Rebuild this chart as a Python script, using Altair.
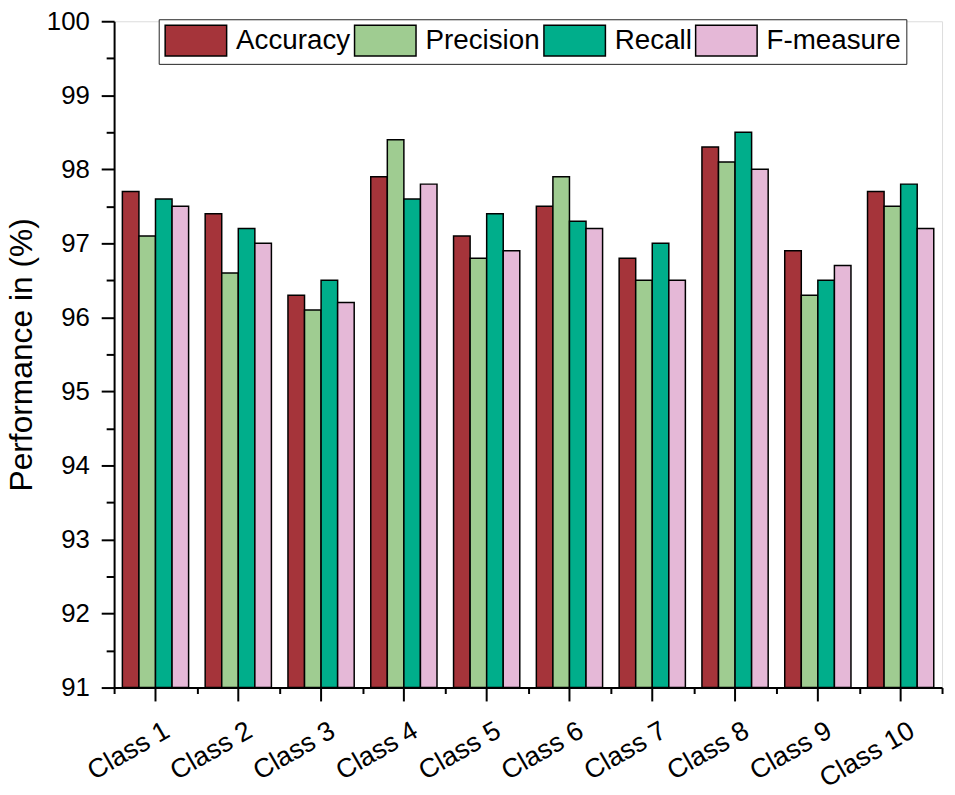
import altair as alt
import pandas as pd

classes = ["Class 1", "Class 2", "Class 3", "Class 4", "Class 5",
           "Class 6", "Class 7", "Class 8", "Class 9", "Class 10"]
metrics = ["Accuracy", "Precision", "Recall", "F-measure"]
accuracy = [97.7, 97.4, 96.3, 97.9, 97.1, 97.5, 96.8, 98.3, 96.9, 97.7]
precision = [97.1, 96.6, 96.1, 98.4, 96.8, 97.9, 96.5, 98.1, 96.3, 97.5]
recall = [97.6, 97.2, 96.5, 97.6, 97.4, 97.3, 97.0, 98.5, 96.5, 97.8]
fmeasure = [97.5, 97.0, 96.2, 97.8, 96.9, 97.2, 96.5, 98.0, 96.7, 97.2]
colors = ["#A5343A", "#9FCC91", "#00AE8B", "#E5B8D7"]
y_ticks = [91 + 0.5 * i for i in range(19)]

series = {"Accuracy": accuracy, "Precision": precision,
          "Recall": recall, "F-measure": fmeasure}
rows = []
for m in metrics:
    for c, v in zip(classes, series[m]):
        rows.append({"Class": c, "Metric": m, "Value": v})
df = pd.DataFrame(rows)
cdf = pd.DataFrame({"Class": classes})

FONT = "Liberation Sans"
W, H = 835, 672

xscale = alt.Scale(domain=classes, paddingInner=0, paddingOuter=0)

bars = alt.Chart(df).mark_bar(stroke="black", strokeWidth=1.5).encode(
    x=alt.X("Class:N", scale=xscale, sort=classes,
            axis=alt.Axis(title=None, labelAngle=-30, labelFont=FONT,
                          labelFontSize=27, labelColor="black",
                          labelAlign="right", labelBaseline="top",
                          labelPadding=24, labelOffset=5,
                          tickBand="extent", tickExtra=True,
                          tickSize=6, tickWidth=2, tickColor="black",
                          domainColor="black", domainWidth=2)),
    xOffset=alt.XOffset("Metric:N", sort=metrics,
                        scale=alt.Scale(domain=metrics, paddingInner=0, paddingOuter=0.5)),
    y=alt.Y("Value:Q",
            scale=alt.Scale(domain=[91, 100], zero=False, nice=False),
            axis=alt.Axis(title="Performance in (%)", values=y_ticks,
                          labelExpr="datum.value % 1 === 0 ? format(datum.value, 'd') : ''",
                          labelFont=FONT, labelFontSize=26, labelColor="black",
                          labelPadding=12,
                          tickSize=alt.condition("datum.value % 1 === 0", alt.value(13), alt.value(8)),
                          tickWidth=2, tickColor="black",
                          domainColor="black", domainWidth=2, grid=False,
                          titleFont=FONT, titleFontSize=32, titleFontWeight="normal",
                          titleColor="black", titleAngle=270, titleBaseline="bottom",
                          titleAlign="center", titleX=-76, titleY=H / 2)),
    y2=alt.Y2(datum=91),
    color=alt.Color("Metric:N", sort=metrics,
                    scale=alt.Scale(domain=metrics, range=colors),
                    legend=alt.Legend(title=None, orient="none", direction="horizontal",
                                      legendX=45, legendY=-2,
                                      symbolType="M-2,-1H2V1H-2Z",
                                      symbolSize=961, symbolOffset=16,
                                      symbolStrokeColor="black",
                                      symbolStrokeWidth=1.5, symbolOpacity=1,
                                      labelFont=FONT, labelFontSize=28, labelColor="black",
                                      labelOffset=24, columnPadding=0, labelLimit=400,
                                      padding=5, strokeColor="#222222",
                                      fillColor="white")),
)

major = alt.Chart(cdf).mark_rule(color="black", strokeWidth=2).encode(
    x=alt.X("Class:N", scale=xscale, sort=classes),
    y=alt.value(H),
    y2=alt.value(H + 14),
)

chart = alt.layer(bars, major).properties(
    width=W, height=H,
    autosize=alt.AutoSizeParams(type="none"),
    padding={"left": 107, "top": 10, "right": 5, "bottom": 105},
).configure_view(stroke=None).configure(background="white")

chart.save("out.html", embed_options={"renderer": "svg", "actions": False})
